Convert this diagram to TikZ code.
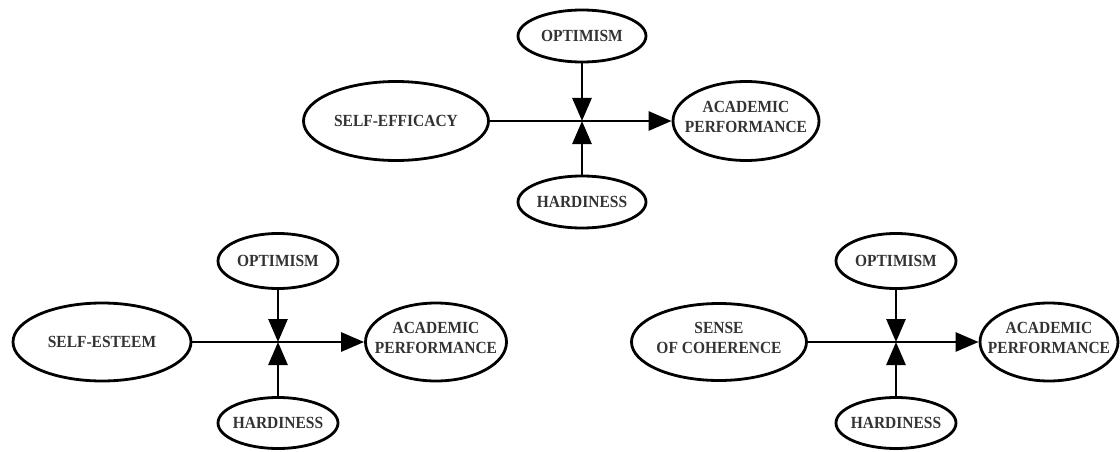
\documentclass[tikz,border=0pt]{standalone}
\usepackage{fontspec}
\setmainfont[FakeStretch=0.91]{Liberation Serif}
\usetikzlibrary{shapes.geometric,arrows.meta}
\tikzset{
  ell/.style={ellipse, draw=black, line width=2.8pt, inner sep=0pt},
  lbl/.style={inner sep=0pt, align=center, text=black!80,
    font=\bfseries\fontsize{17}{20}\selectfont},
  two/.style={yshift=4pt},
  conn/.style={line width=2.8pt, -{Triangle[length=23pt,width=19pt]}}
}
\begin{document}
\begin{tikzpicture}[x=1pt,y=-1pt]
\useasboundingbox (0,0) rectangle (1120,452);
% ---------- top diagram ----------
\node[ell, minimum width=128pt, minimum height=52pt] (topt) at (582,36) {};
\node[lbl] (topt-t) at (topt) {OPTIMISM};
\node[ell, minimum width=185pt, minimum height=79pt] (tse) at (396,121) {};
\node[lbl] (tse-t) at (tse) {SELF-EFFICACY};
\node[ell, minimum width=146pt, minimum height=79pt] (tap) at (746,121) {};
\node[lbl, two] (tap-t) at (tap) {ACADEMIC\\PERFORMANCE};
\node[ell, minimum width=128pt, minimum height=52pt] (thar) at (582,202) {};
\node[lbl] (thar-t) at (thar) {HARDINESS};
\coordinate (tj) at (582,121);
\draw[conn] (tse.east) -- (tap.west);
\draw[conn] (topt.south) -- (tj);
\draw[conn] (thar.north) -- (tj);
% ---------- bottom left ----------
\node[ell, minimum width=120pt, minimum height=55pt] (lopt) at (278,261) {};
\node[lbl] (lopt-t) at (lopt) {OPTIMISM};
\node[ell, minimum width=178pt, minimum height=78pt] (lse) at (102,342) {};
\node[lbl] (lse-t) at (lse) {SELF-ESTEEM};
\node[ell, minimum width=141pt, minimum height=78pt] (lap) at (436,342) {};
\node[lbl, two] (lap-t) at (lap) {ACADEMIC\\PERFORMANCE};
\node[ell, minimum width=120pt, minimum height=51pt] (lhar) at (278,423) {};
\node[lbl] (lhar-t) at (lhar) {HARDINESS};
\coordinate (lj) at (278,342);
\draw[conn] (lse.east) -- (lap.west);
\draw[conn] (lopt.south) -- (lj);
\draw[conn] (lhar.north) -- (lj);
% ---------- bottom right ----------
\node[ell, minimum width=120pt, minimum height=55pt] (ropt) at (896,261) {};
\node[lbl] (ropt-t) at (ropt) {OPTIMISM};
\node[ell, minimum width=175pt, minimum height=77pt] (rsc) at (719,342) {};
\node[lbl, two] (rsc-t) at (rsc) {SENSE\\OF COHERENCE};
\node[ell, minimum width=138pt, minimum height=78pt] (rap) at (1049,342) {};
\node[lbl, two] (rap-t) at (rap) {ACADEMIC\\PERFORMANCE};
\node[ell, minimum width=120pt, minimum height=51pt] (rhar) at (896,423) {};
\node[lbl] (rhar-t) at (rhar) {HARDINESS};
\coordinate (rj) at (896,342);
\draw[conn] (rsc.east) -- (rap.west);
\draw[conn] (ropt.south) -- (rj);
\draw[conn] (rhar.north) -- (rj);
\end{tikzpicture}
\end{document}
